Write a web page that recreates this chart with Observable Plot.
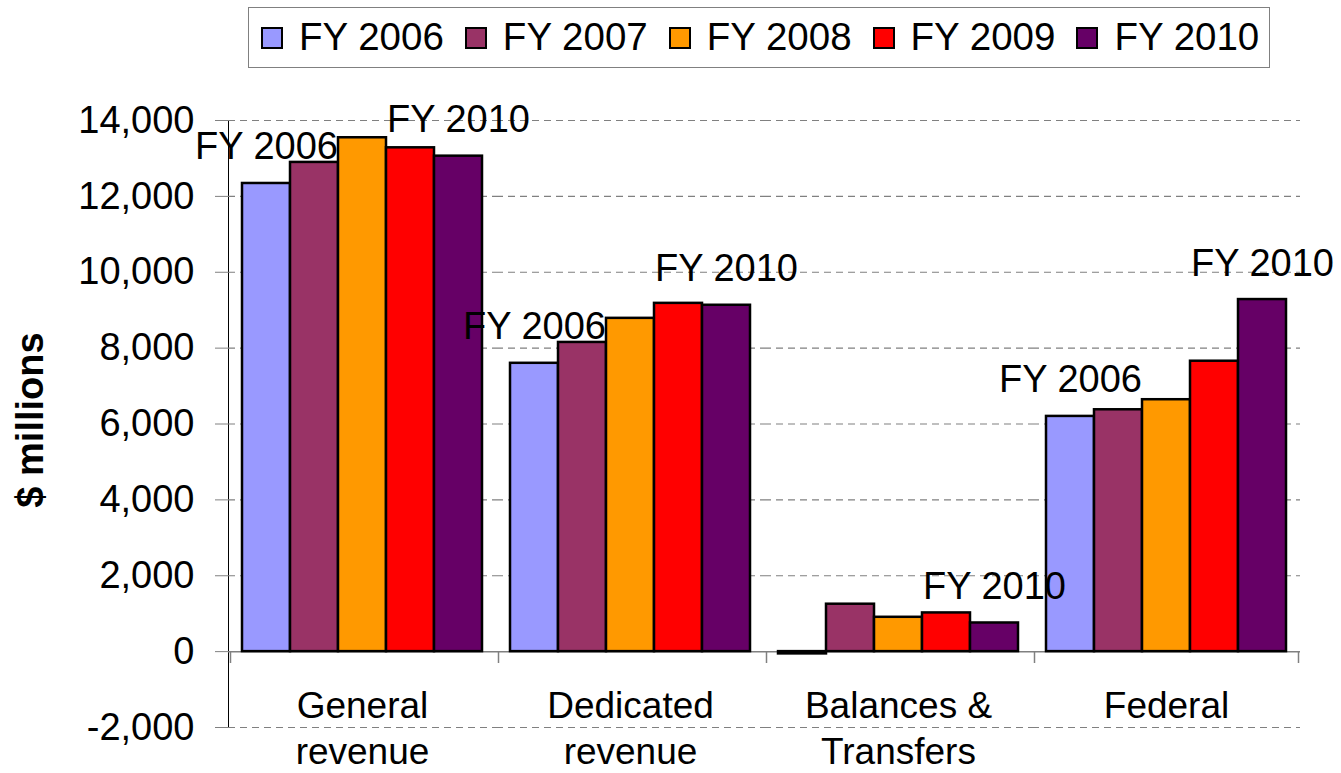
<!DOCTYPE html>
<html><head><meta charset="utf-8">
<script src="https://cdn.jsdelivr.net/npm/d3@7"></script>
<script src="https://cdn.jsdelivr.net/npm/@observablehq/plot@0.6"></script>
<style>
body{margin:0;background:#fff;font-family:"Liberation Sans",Arial,sans-serif;}
#wrap{position:relative;width:1341px;height:773px;overflow:hidden}
#legend{position:absolute;left:248px;top:7px;width:1022px;height:61px;box-sizing:border-box;border:1px solid #808080;display:flex;flex-wrap:nowrap;align-items:center;padding-left:12px;overflow:visible}
.item{display:flex;flex-shrink:0;align-items:center;margin-right:21px;font-size:38.5px;line-height:1;white-space:nowrap}
.item:last-child{margin-right:0}
.sw{width:22px;height:22px;flex-shrink:0;box-sizing:border-box;border:2px solid #000;margin-right:16px}
#ytitle{position:absolute;left:30px;top:420px;transform:translate(-50%,-50%) rotate(-90deg);font-weight:bold;font-size:38px;white-space:nowrap}
#chart{position:absolute;left:0;top:70px}
svg g[aria-label^="y-axis"] path, svg g[aria-label^="y-axis"] line{stroke:#808080}
</style></head>
<body><div id="wrap"><div id="legend"></div><div id="ytitle">$ millions</div><div id="chart"></div></div>
<script>
const categories = ["General revenue", "Dedicated revenue", "Balances & Transfers", "Federal"];
const categoryLabels = ["General\nrevenue", "Dedicated\nrevenue", "Balances &\nTransfers", "Federal"];
const years = ["FY 2006", "FY 2007", "FY 2008", "FY 2009", "FY 2010"];
const colors = ["#9999FF", "#993366", "#FF9900", "#FF0000", "#660066"];
const fy2006 = [12340, 7600, -60, 6200];
const fy2007 = [12895, 8150, 1250, 6375];
const fy2008 = [13545, 8785, 905, 6640];
const fy2009 = [13280, 9180, 1020, 7655];
const fy2010 = [13060, 9130, 755, 9280];
const labelledBars = [
  ["General revenue", "FY 2006"], ["General revenue", "FY 2010"],
  ["Dedicated revenue", "FY 2006"], ["Dedicated revenue", "FY 2010"],
  ["Balances & Transfers", "FY 2010"],
  ["Federal", "FY 2006"], ["Federal", "FY 2010"]
];
const yTicks = [-2000, 0, 2000, 4000, 6000, 8000, 10000, 12000, 14000];

const series = [fy2006, fy2007, fy2008, fy2009, fy2010];
const rows = [];
categories.forEach((c, i) => series.forEach((s, j) => rows.push({category: c, year: years[j], value: s[i]})));
const isLabelled = d => labelledBars.some(([c, y]) => c === d.category && y === d.year);

// legend
const leg = document.getElementById("legend");
years.forEach((y, i) => {
  const it = document.createElement("div"); it.className = "item";
  const sw = document.createElement("div"); sw.className = "sw"; sw.style.background = colors[i];
  const t = document.createElement("span"); t.textContent = y;
  it.appendChild(sw); it.appendChild(t); leg.appendChild(it);
});

const font = '"Liberation Sans", Arial, sans-serif';
const chart = Plot.plot({
  width: 1341, height: 703,
  marginTop: 50, marginBottom: 46, marginLeft: 228, marginRight: 41,
  style: {fontFamily: font, fontSize: "38px", color: "#000", background: "transparent", overflow: "visible"},
  facet: {data: rows, x: "category"},
  fx: {domain: categories, padding: 0, axis: null},
  x: {domain: years, paddingInner: 0, paddingOuter: 0.235, axis: null},
  y: {domain: [-2000, 14000], ticks: yTicks, tickFormat: d => d.toLocaleString("en-US"), tickSize: 13, tickPadding: 21, line: true, label: null},
  color: {domain: years, range: colors},
  marks: [
    Plot.ruleY(yTicks.filter(t => t !== 0), {stroke: "#808080", strokeWidth: 1.2, strokeDasharray: "7,5"}),
    Plot.ruleY([0], {stroke: "#808080", strokeWidth: 1.5}),
    Plot.barY(rows, {x: "year", y: "value", fill: "year", stroke: "#000", strokeWidth: 2.5}),
    Plot.ruleX(rows, Plot.filter(d => d.year === "FY 2006", {x: "year", y1: () => 0, y2: () => -2000, insetBottom: 64, dx: -36, stroke: "#808080", strokeWidth: 1.5})),
    Plot.ruleX(rows, Plot.filter(d => d.year === "FY 2010" && d.category === "Federal", {x: "year", y1: () => 0, y2: () => -2000, insetBottom: 64, dx: 36, stroke: "#808080", strokeWidth: 1.5})),
    Plot.text(rows, Plot.filter(isLabelled, {x: "year", y: "value", text: "year", lineAnchor: "bottom", dy: -24, fontSize: 38, fill: "#000"})),
    Plot.text(rows, Plot.filter(d => d.year === "FY 2008", {x: "year", y: () => 0, text: d => categoryLabels[categories.indexOf(d.category)], lineAnchor: "top", dy: 33, lineHeight: 1.26, fontSize: 37, fill: "#000"}))
  ]
});
document.getElementById("chart").appendChild(chart);
</script>
</body></html>
